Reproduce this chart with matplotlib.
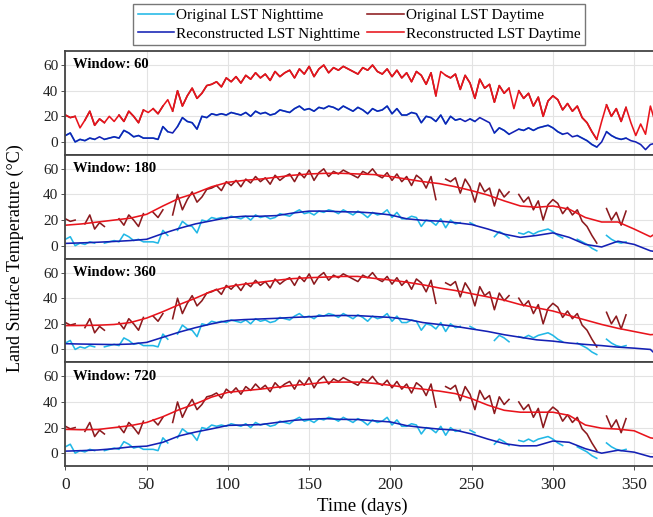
# -*- coding: utf-8 -*-
"""
Original vs reconstructed LST for several SSA window lengths.
"""
import matplotlib
matplotlib.use('Agg')
import matplotlib.pyplot as plt
import numpy as np

# Daily LST sampled every 3 days (window-60 reconstruction follows it closely)
days = np.arange(0, 364, 3)
lst_day = [21, 19, 20, 11, 17, 24, 13, 18, 15, 20,
           16, 21, 16, 24, 20, 15, 25, 23, 26, 22,
           28, 33, 24, 40, 28, 36, 42, 34, 38, 44,
           45, 47, 43, 50, 47, 51, 46, 52, 49, 54,
           50, 53, 48, 55, 51, 54, 56, 50, 57, 53,
           59, 51, 57, 60, 54, 58, 56, 59, 57, 55,
           53, 58, 56, 60, 55, 53, 57, 51, 56, 50,
           54, 47, 55, 52, 45, 54, 36, 55, 52, 50,
           53, 41, 52, 46, 34, 49, 42, 45, 31, 44,
           38, 42, 26, 40, 34, 38, 28, 35, 20, 32,
           36, 33, 25, 30, 24, 28, 19, 15, 8, 2,
           16, 29, 20, 26, 16, 27, 15, 5, 14, 6,
           28, 15]
lst_night = [5, 7, 0, 2, 1, 3, 2, 4, 2, 3,
             4, 3, 9, 7, 4, 5, 3, 3, 3, 2,
             12, 8, 7, 12, 19, 16, 15, 10, 20, 19,
             22, 21, 22, 21, 23, 22, 21, 23, 20, 24,
             22, 23, 21, 22, 25, 24, 23, 26, 28, 25,
             26, 24, 27, 26, 28, 27, 25, 28, 26, 24,
             27, 25, 22, 26, 24, 25, 28, 22, 26, 21,
             21, 23, 22, 15, 20, 19, 16, 21, 14, 20,
             17, 18, 16, 18, 16, 19, 17, 15, 7, 11,
             9, 6, 8, 10, 9, 11, 9, 11, 12, 13,
             11, 8, 6, 7, 4, 5, 3, 1, -2, -4,
             0, 8, 5, 3, 2, 3, 1, 0, -2, -6,
             -2, -1]

# Periods with valid (cloud free) observations
obs_day = [(0, 6), (12, 24), (33, 48), (54, 60), (66, 84), (87, 228),
           (234, 246), (249, 273), (279, 291), (294, 327), (333, 345)]
obs_night = [(0, 6), (9, 12), (15, 18), (24, 27), (30, 33), (36, 57),
             (60, 63), (69, 84), (87, 213), (216, 225), (228, 231),
             (234, 243), (249, 252), (264, 273), (279, 291), (294, 306),
             (315, 327), (333, 339), (342, 345)]

# Smooth reconstructions, every 10 days
sm_days = [0, 10, 20, 30, 40, 50, 60, 70, 80, 90, 100, 110, 120, 130, 140,
           150, 160, 170, 180, 190, 200, 210, 220, 230, 240, 250, 260, 270,
           280, 290, 300, 310, 320, 330, 340, 350, 360, 365]
w180_day = [16, 17, 18.5, 20, 21.5, 24.5, 31, 37, 41, 46, 49.5, 51, 52, 53.5,
            55, 56, 56.5, 56.5, 56, 55.5, 54, 52, 50, 48.5, 46, 43, 39.5, 35,
            31, 30, 31, 28.5, 22, 18.5, 18.5, 13, 7, 11]
w180_night = [1.8, 2.2, 2.7, 3.3, 4, 5, 9.5, 13.5, 17, 19.5, 22, 23, 23, 23.5,
              25.5, 27, 27, 26.5, 26.3, 25.5, 24, 21, 19.8, 19.2, 18, 16.5,
              13, 9, 6.5, 8, 10, 6.5, 1, -1, 3.5, 1, -4, -5]
w360_day = [18.6, 18.7, 18.9, 19.5, 21, 24.5, 29.5, 35, 40, 45.5, 49, 51,
            52.5, 54, 55.3, 56, 56.5, 57, 57, 55.5, 54.2, 52.5, 50.5, 48, 46,
            43.5, 41, 38.5, 35, 32.5, 30, 26.5, 23, 19.5, 16.5, 14, 11.5, 12]
w360_night = [4.5, 4.2, 4, 3.8, 4.2, 5.5, 9.5, 13.5, 17, 20, 22.5, 23.3,
              23.8, 24.3, 25, 25.5, 26.3, 26.5, 26.4, 25.7, 25, 23.5, 21,
              19.5, 18, 16, 14, 11.5, 9.5, 7.5, 6.5, 5, 3.9, 3, 1.8, 1, 0, -6]
w720_day = [18.6, 18.3, 18.5, 20, 21.5, 24, 28.5, 34, 38.5, 43.8, 47.5, 48.8,
            50, 51.5, 53, 54, 55.4, 55.5, 55.5, 54.5, 53, 51.3, 50, 48.5,
            46.5, 42.5, 37.5, 33.5, 32, 32, 32, 29.5, 22, 19.5, 18.8, 17.5,
            12, 11]
w720_night = [1.6, 2, 2.5, 3.5, 4.9, 5.5, 8.5, 13.5, 16.5, 19, 21.7, 22,
              22.3, 24, 25.6, 26.5, 27, 26.4, 26.3, 25.3, 24.4, 21.5, 20,
              18.8, 18, 15, 11, 7.5, 5.7, 5.8, 9.5, 8.5, 3.5, 0, 2.3, 0.8,
              -2.8, -3]

windows = [60, 180, 360, 720]

C_ORIG_NIGHT = '#22b8e6'
C_REC_NIGHT = '#1420b4'
C_ORIG_DAY = '#8c1a1e'
C_REC_DAY = '#e8141c'
SPINE = '#444444'

plt.rcParams['font.family'] = ['Liberation Serif', 'DejaVu Serif']


def observed(values, periods):
    """ Keeps only values inside the observed periods. """
    vals = np.array(values, dtype=float)
    mask = np.zeros(len(days), dtype=bool)
    for start, end in periods:
        mask |= (days >= start) & (days <= end)
    return np.where(mask, vals, np.nan)


orig_day = observed(lst_day, obs_day)
orig_night = observed(lst_night, obs_night)

recon = {60: (days, lst_night, lst_day),
         180: (sm_days, w180_night, w180_day),
         360: (sm_days, w360_night, w360_day),
         720: (sm_days, w720_night, w720_day)}

fig = plt.figure(figsize=(6.53, 5.17), dpi=100)

W, H = 653.0, 517.0
left = 65.4 / W
width = 365 * 1.625 / W
top = 51.0
panel_h = 103.75

axes = []
for i, win in enumerate(windows):
    y0 = 1 - (top + (i + 1) * panel_h) / H
    ax = fig.add_axes([left, y0, width, panel_h / H])
    axes.append(ax)

    lw = 1.15
    ax.plot(days, orig_night, color=C_ORIG_NIGHT, lw=lw,
            label='Original LST Nighttime')
    ax.plot(days, orig_day, color=C_ORIG_DAY, lw=lw,
            label='Original LST Daytime')
    xs, rn, rd = recon[win]
    ax.plot(xs, rn, color=C_REC_NIGHT, lw=lw,
            label='Reconstructed LST Nighttime')
    ax.plot(xs, rd, color=C_REC_DAY, lw=lw,
            label='Reconstructed LST Daytime')

    ax.set_xlim(0, 365)
    ax.set_ylim(-10, 71)
    ax.set_yticks([0, 20, 40, 60])
    ax.set_xticks(range(0, 351, 50))
    ax.grid(True, color='#e3e3e3', lw=0.8)
    ax.set_axisbelow(True)
    ax.tick_params(axis='y', labelsize=11, length=3, width=0.6,
                   colors='#333333', labelcolor='#222222', pad=2)
    ax.tick_params(axis='x', labelsize=12.5, length=3, width=0.6,
                   colors='#333333', labelcolor='#222222', pad=5)
    if i < 3:
        ax.tick_params(axis='x', labelbottom=False, length=0)
    for side in ['top', 'bottom', 'left']:
        ax.spines[side].set_color(SPINE)
        ax.spines[side].set_linewidth(1.3)
    ax.spines['right'].set_visible(False)

    ax.text(0.012, 0.93, 'Window: %d' % win, transform=ax.transAxes,
            fontsize=10.5, fontweight='bold', va='top', ha='left')

axes[-1].set_xlabel('Time (days)', fontsize=13.5, labelpad=3)
fig.text(15 / W, 1 - 258 / H, 'Land Surface Temperature (\u00b0C)',
         rotation=90, fontsize=13, ha='center', va='center')

# Legend: nighttime in first column, daytime in second
h, l = axes[0].get_legend_handles_labels()
order = [0, 2, 1, 3]
fig.legend([h[k] for k in order], [l[k] for k in order],
           loc='upper center', bbox_to_anchor=(359 / W, 1 - 4 / H), ncol=2,
           fontsize=11, frameon=True, fancybox=False, edgecolor='#777777',
           framealpha=1, handlelength=2.4, handletextpad=0.1,
           columnspacing=0.5, borderpad=0.3, labelspacing=0.3,
           borderaxespad=0)

fig.savefig('out.png', dpi=100)
